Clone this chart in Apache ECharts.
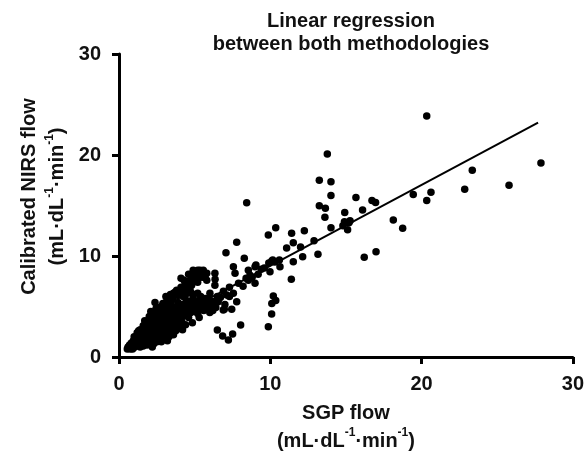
<!DOCTYPE html>
<html>
<head>
<meta charset="utf-8">
<script src="https://cdn.jsdelivr.net/npm/echarts@6/dist/echarts.min.js"></script>
<style>
  html, body { margin: 0; padding: 0; background: #fff; }
  #chart { width: 587px; height: 461px; }
</style>
</head>
<body>
<div id="chart"></div>
<script>
// ---- Data ----
const chartTitle = 'Linear regression\nbetween both methodologies';
const xTicks = [0, 10, 20, 30];
const yTicks = [0, 10, 20, 30];

// Dense cluster of low-flow measurements [SGP flow, calibrated NIRS flow]
const clusterPoints = [
  [0.55,0.8],[0.6,1.0],[0.65,0.9],[0.7,1.2],[0.75,0.8],[0.8,1.1],[0.85,1.4],[0.9,1.0],[0.95,1.6],[1.0,1.3],[0.9,0.8],
  [1.05,1.0],[1.1,1.5],[1.15,1.9],[1.2,1.2],[1.25,1.7],[1.3,2.1],[1.35,1.4],[1.4,1.0],[1.45,1.8],[1.5,2.3],[1.2,2.4],[1.4,2.7],
  [1.55,1.3],[1.6,2.0],[1.65,2.6],[1.7,1.6],[1.75,3.0],[1.8,2.2],[1.85,1.9],[1.9,2.8],[1.95,3.4],[2.0,2.4],[1.7,3.6],[1.85,1.2],[1.6,1.1],
  [2.05,1.6],[2.1,3.0],[2.15,2.0],[2.2,3.8],[2.25,2.6],[2.3,1.3],[2.35,3.3],[2.4,4.2],[2.45,2.2],[2.5,2.9],[2.1,4.5],[2.38,5.4],[2.2,1.0],[2.4,1.7],[2.3,3.6],[2.45,4.8],
  [2.55,3.6],[2.6,1.8],[2.65,4.4],[2.7,2.5],[2.75,3.2],[2.8,5.0],[2.85,2.1],[2.9,3.9],[2.95,4.6],[3.0,2.8],[2.6,2.3],[2.7,3.9],[2.8,1.5],[2.9,5.3],[2.55,4.9],[3.0,3.5],
  [3.05,4.1],[3.1,2.4],[3.15,5.5],[3.2,3.2],[3.25,4.7],[3.3,2.0],[3.35,3.8],[3.4,5.1],[3.45,2.9],[3.5,4.4],[3.1,6.0],[3.3,5.8],[3.45,3.5],[3.2,1.6],[3.4,6.2],[3.5,2.5],
  [3.55,5.7],[3.6,3.3],[3.65,4.0],[3.7,6.4],[3.75,2.6],[3.8,4.9],[3.85,3.6],[3.9,5.4],[3.95,4.3],[4.0,3.0],[3.6,2.2],[3.81,6.6],[3.7,4.6],[3.9,6.1],[3.55,5.0],
  [4.05,4.6],[4.1,7.8],[4.1,6.9],[4.15,3.5],[4.2,5.2],[4.25,6.0],[4.3,4.1],[4.35,7.1],[4.4,3.2],[4.45,5.6],[4.5,4.8],[4.3,6.5],[4.2,2.7],[4.45,7.4],
  [4.55,6.8],[4.6,3.9],[4.65,5.1],[4.7,7.6],[4.75,4.4],[4.8,6.3],[4.85,3.4],[4.9,8.0],[4.95,5.4],[5.0,4.7],[4.6,7.2],[4.8,4.9],[5.0,7.7],
  [5.05,8.3],[5.1,5.0],[5.13,8.45],[5.2,4.3],[5.25,7.9],[5.3,5.6],[5.35,7.95],[5.4,4.8],[5.45,8.2],[5.5,5.2],[5.3,3.9],[5.57,8.6],[5.2,7.4],[5.4,6.0],
  [5.6,4.6],[5.7,8.1],[5.75,5.4],[5.8,7.6],[5.85,4.9],[5.9,5.8],[6.0,4.4],[5.35,8.6],[6.01,6.3],
  [6.1,5.2],[6.2,4.6],[6.34,8.28],[6.35,7.7],[6.34,7.1],[6.3,5.5],[6.4,4.9],[6.5,6.0],[6.56,5.48],
  [1.0,2.0],[1.3,2.6],[1.6,3.1],[1.9,3.6],[2.0,4.0],[2.2,4.3],[2.5,4.5],[2.7,4.8],[3.0,5.1],[3.2,5.4],[3.5,5.9],[3.6,6.3],
  [1.8,1.5],[2.1,1.9],[2.4,2.6],[2.7,2.9],[3.0,3.1],[3.3,3.3],[3.6,3.8],[3.9,3.9],[4.2,4.4],[4.5,4.2],[4.8,4.6],[5.1,4.5],[5.4,5.3],[5.7,5.8],[6.0,5.6],
  [2.2,3.1],[2.5,3.4],[2.8,3.6],[3.1,3.9],[3.4,4.2],[3.7,4.3],[4.0,4.9],[4.3,5.0],[4.6,5.5],[4.9,5.9],[5.2,6.3],
  [4.0,6.5],[4.3,7.6],[4.6,8.2],[4.9,8.6],[5.2,8.6],[5.5,7.9],[5.8,8.3],[4.8,7.1],[4.4,6.2],[4.7,6.6],
  [2.0,2.0],[2.3,2.3],[2.6,2.7],[2.9,3.1],[3.2,2.8],[3.5,3.1],[3.8,3.3],[4.1,3.8],[2.9,1.9],[3.4,2.4],[2.5,1.5],[3.9,2.8]
];

// Mid-range measurements
const midPoints = [
  [7.07,10.33],[7.78,11.35],[8.28,9.77],[7.56,8.94],[7.67,8.28],[6.96,4.72],[7.45,4.72],[7.12,6.14],[7.56,6.3],[7.78,5.47],
  [6.89,4.65],[8.04,3.17],[6.5,2.67],[6.85,2.08],[7.23,1.68],[7.51,2.28],[8.55,8.6],[8.99,8.94],[8.55,7.6],[8.99,7.3],
  [8.66,8.1],[9.05,9.1],[8.44,15.28],[7.3,6.9],[7.9,7.3],[8.2,7.0],[8.4,7.8],[8.8,7.9],[9.2,8.2],[9.4,8.7],[9.6,8.8],
  [9.9,9.3],[10.1,9.5],[10.3,9.4],[10.6,9.6],[10.64,8.94],[9.98,8.45],[10.16,9.6],[6.7,5.9],[6.9,6.5],[7.0,5.2],[7.3,6.0],
  [10.2,6.04],[10.36,5.6],[10.1,5.3],[10.09,4.26],[9.87,3.0],[9.87,12.08],[10.36,12.8]
];

// High-flow measurements
const highPoints = [
  [20.34,23.86],[13.77,20.1],[13.24,17.5],[14.01,17.36],[14.01,16.0],[13.24,14.98],[13.64,14.72],[13.61,13.83],[14.01,12.8],
  [15.66,15.8],[16.72,15.5],[16.96,15.3],[16.1,14.55],[14.92,14.3],[14.9,13.4],[15.27,13.5],[15.11,12.6],[14.8,13.0],[15.2,13.3],
  [18.13,13.56],[18.75,12.74],[19.45,16.1],[20.34,15.5],[20.62,16.3],[23.35,18.5],[22.85,16.6],[25.78,17.0],[27.89,19.2],
  [16.21,9.87],[16.99,10.43],[13.15,10.17],[12.89,11.52],[12.25,12.5],[11.41,12.25],[11.52,11.3],[11.08,10.8],[12.0,10.9],
  [12.14,9.93],[11.52,9.44],[11.39,7.69]
];

// Regression line end points
const regressionLine = [[0.6,1.5],[27.7,23.2]];

// ---- Chart ----
const FONT = '"Liberation Sans", Arial, Helvetica, sans-serif';
const INK = '#111';
const unitRich = {
  n: { fontSize: 20, fontWeight: 'bold', fontFamily: FONT, color: INK, lineHeight: 28 },
  s: { fontSize: 12, fontWeight: 'bold', fontFamily: FONT, color: INK, lineHeight: 20, verticalAlign: 'top' }
};
const unitText = '{n|(mL·dL}{s|-1}{n|·min}{s|-1}{n|)}';
const dotStyle = { color: '#000', opacity: 1 };

const chart = echarts.init(document.getElementById('chart'), null, { renderer: 'canvas' });
chart.setOption({
  animation: false,
  backgroundColor: '#fff',
  title: {
    text: chartTitle,
    left: 346,
    textAlign: 'center',
    top: 5,
    textStyle: { fontFamily: FONT, fontSize: 20, fontWeight: 'bold', color: INK, lineHeight: 23 }
  },
  grid: { left: 119, right: 14, top: 54, bottom: 104, containLabel: false },
  xAxis: {
    type: 'value', min: xTicks[0], max: xTicks[xTicks.length - 1], interval: 10,
    name: '{n|SGP flow}\n' + unitText,
    nameLocation: 'middle', nameGap: 42,
    nameTextStyle: { rich: unitRich, align: 'center' },
    axisLine: { lineStyle: { color: '#000', width: 3 } },
    axisTick: { inside: false, length: 7, lineStyle: { color: '#000', width: 3 } },
    axisLabel: { margin: 17, fontFamily: FONT, fontSize: 20, fontWeight: 'bold', color: INK },
    splitLine: { show: false }
  },
  yAxis: {
    type: 'value', min: yTicks[0], max: yTicks[yTicks.length - 1], interval: 10,
    name: '{n|Calibrated NIRS flow}\n' + unitText,
    nameLocation: 'middle', nameGap: 46, nameRotate: 90,
    nameTextStyle: { rich: unitRich, align: 'center', padding: [0, 0, 0, 18] },
    axisLine: { lineStyle: { color: '#000', width: 3 } },
    axisTick: { inside: false, length: 7, lineStyle: { color: '#000', width: 3 } },
    axisLabel: { margin: 18, fontFamily: FONT, fontSize: 20, fontWeight: 'bold', color: INK },
    splitLine: { show: false }
  },
  series: [
    { type: 'scatter', data: clusterPoints, symbol: 'circle', symbolSize: 7.5, itemStyle: dotStyle },
    { type: 'scatter', data: midPoints, symbol: 'circle', symbolSize: 7.5, itemStyle: dotStyle },
    { type: 'scatter', data: highPoints, symbol: 'circle', symbolSize: 7.5, itemStyle: dotStyle },
    { type: 'line', data: regressionLine, showSymbol: false, symbol: 'none', lineStyle: { color: '#000', width: 2 }, z: 3 }
  ]
});
</script>
</body>
</html>
